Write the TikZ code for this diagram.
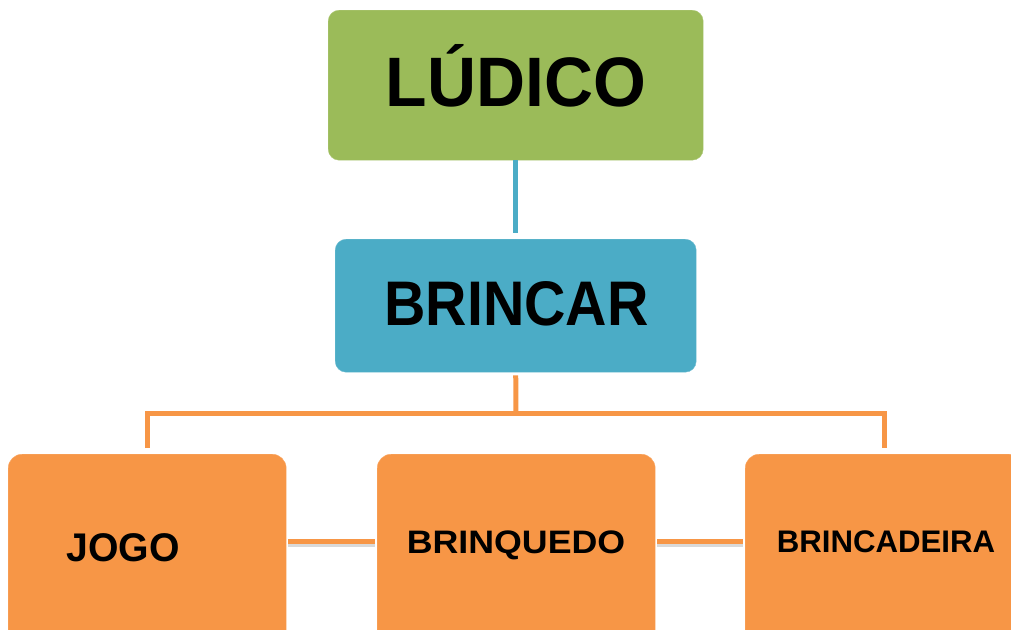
\documentclass[tikz,border=0pt]{standalone}
\usepackage{fontspec}
\setmainfont{Liberation Sans}
\definecolor{cgreen}{HTML}{9BBB59}
\definecolor{cblue}{HTML}{4BACC6}
\definecolor{corange}{HTML}{F79646}
\tikzset{
  box/.style={rounded corners=#1, inner sep=0pt, anchor=north west},
  lbl/.style={anchor=base, inner sep=0pt, font=\bfseries, text=black},
  bline/.style={draw=cblue, line width=5pt},
  oline/.style={draw=corange, line width=5pt},
  shadowline/.style={draw=black!50, line width=4pt, opacity=0.3},
}
\begin{document}
\begin{tikzpicture}[x=1pt, y=-1pt]
\useasboundingbox (0,0) rectangle (1011,629);
\clip (0,0) rectangle (1011,629);
% boxes
\node[box=11pt, fill=cgreen, draw=cgreen!80!white, minimum width=375pt, minimum height=150pt] (ludico) at (328,10) {};
\node[box=11pt, fill=cblue, draw=cblue!80!white, minimum width=361pt, minimum height=133pt] (brincar) at (335,239) {};
\node[box=14pt, fill=corange, draw=corange!80!white, minimum width=278pt, minimum height=190pt] (jogo) at (8,454) {};
\node[box=14pt, fill=corange, draw=corange!80!white, minimum width=278pt, minimum height=190pt] (brinquedo) at (377,454) {};
\node[box=14pt, fill=corange, draw=corange!80!white, minimum width=278pt, minimum height=190pt] (brincadeira) at (745,454) {};
% labels
\node[lbl, font=\bfseries\fontsize{70}{70}\selectfont] (tludico) at (516,106.7) {\scalebox{0.97}[1]{LÚDICO}};
\node[lbl, font=\bfseries\fontsize{63}{63}\selectfont] (tbrincar) at (516.5,325) {\scalebox{0.91}[1]{BRINCAR}};
\node[lbl, font=\bfseries\fontsize{40}{40}\selectfont] (tjogo) at (123,561.5) {\scalebox{0.98}[1]{JOGO}};
\node[lbl, font=\bfseries\fontsize{32.5}{32.5}\selectfont] (tbrinquedo) at (516,553) {\scalebox{1.1}[1]{BRINQUEDO}};
\node[lbl, font=\bfseries\fontsize{31.2}{31.2}\selectfont] (tbrincadeira) at (886,552) {BRINCADEIRA};
% connectors
\coordinate (bus) at (516,413);
\draw[bline, shorten >=6pt] (ludico.south) -- (brincar.north);
\draw[oline, shorten <=3pt] (brincar.south) -- (bus);
\draw[oline, shorten <=6pt, shorten >=6pt] (jogo.north) |- (bus) -| (brincadeira.north);
\draw[shadowline, shorten <=2pt, shorten >=2pt, transform canvas={yshift=-3.5pt}] ([yshift=8pt]jogo.east) -- ([yshift=8pt]brinquedo.west);
\draw[shadowline, shorten <=2pt, shorten >=2pt, transform canvas={yshift=-3.5pt}] ([yshift=8pt]brinquedo.east) -- ([yshift=8pt]brincadeira.west);
\draw[oline, shorten <=2pt, shorten >=2pt] ([yshift=8pt]jogo.east) -- ([yshift=8pt]brinquedo.west);
\draw[oline, shorten <=2pt, shorten >=2pt] ([yshift=8pt]brinquedo.east) -- ([yshift=8pt]brincadeira.west);
\end{tikzpicture}
\end{document}
